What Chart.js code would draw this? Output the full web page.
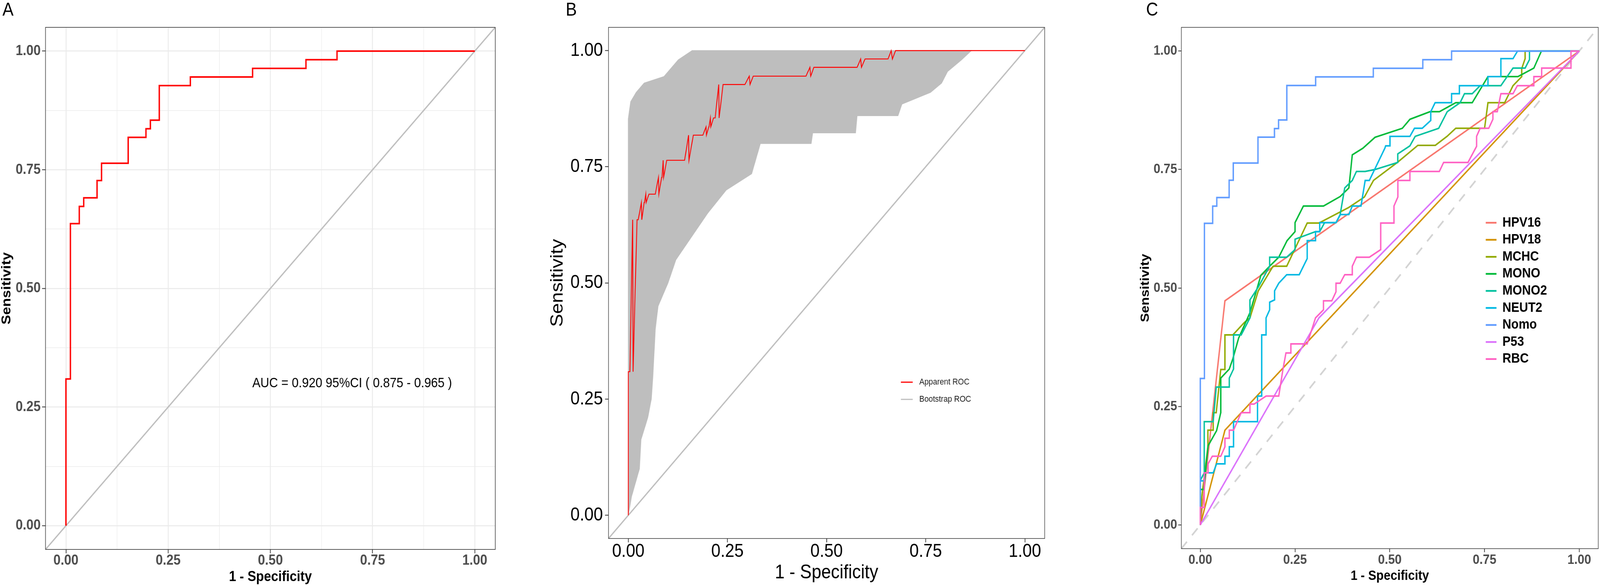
<!DOCTYPE html>
<html>
<head>
<meta charset="utf-8">
<script src="https://cdn.jsdelivr.net/npm/chart.js@4.4.1/dist/chart.umd.min.js"></script>
<style>
  html, body { margin: 0; padding: 0; background: #fff; overflow: hidden; }
  #stage { position: relative; width: 4607px; height: 1497px; transform-origin: 0 0;
           font-family: "Liberation Sans", Arial, Helvetica, sans-serif; }
  canvas { position: absolute; top: 0; }
  .tag { position: absolute; top: 0; font-size: 48px; line-height: 48px; color: #000; z-index: 2; }
</style>
</head>
<body>
<div id="stage">
<canvas id="rocA" width="1480" height="1497" style="left:0px;width:1480px;height:1497px"></canvas>
<canvas id="rocB" width="1530" height="1497" style="left:1500px;width:1530px;height:1497px"></canvas>
<canvas id="rocC" width="1507" height="1497" style="left:3100px;width:1507px;height:1497px"></canvas>
<div class="tag" style="left:7px">A</div>
<div class="tag" style="left:1629px">B</div>
<div class="tag" style="left:3300px">C</div>
</div>
<script>
const FONT = '"Liberation Sans", Arial, Helvetica, sans-serif';

const axisTicks = [0, 0.25, 0.5, 0.75, 1];
const minorTicks = [0.125, 0.375, 0.625, 0.875];
const aucText = 'AUC = 0.920 95%CI ( 0.875 - 0.965 )';

// [1 - specificity, sensitivity] at each corner of the curves
const nomo = [[0,0],[0,0.3091],[0.0109,0.3091],[0.0109,0.6364],[0.0326,0.6364],[0.0326,0.6727],
  [0.0435,0.6727],[0.0435,0.6909],[0.0761,0.6909],[0.0761,0.7273],[0.0870,0.7273],[0.0870,0.7636],
  [0.1522,0.7636],[0.1522,0.8182],[0.1957,0.8182],[0.1957,0.8364],[0.2065,0.8364],[0.2065,0.8545],
  [0.2283,0.8545],[0.2283,0.9273],[0.3043,0.9273],[0.3043,0.9455],[0.4565,0.9455],[0.4565,0.9636],
  [0.5870,0.9636],[0.5870,0.9818],[0.6630,0.9818],[0.6630,1],[1,1]];

const apparentB = [[0,0],[0,0.309],[0.004,0.309],[0.011,0.636],[0.012,0.309],[0.022,0.636],
  [0.025,0.636],[0.033,0.673],[0.034,0.636],[0.040,0.673],[0.041,0.673],[0.044,0.691],[0.045,0.673],
  [0.052,0.691],[0.068,0.691],[0.076,0.727],[0.077,0.691],[0.084,0.727],[0.085,0.727],[0.088,0.764],
  [0.089,0.727],[0.097,0.764],[0.142,0.764],[0.152,0.818],[0.153,0.764],[0.164,0.818],[0.188,0.818],
  [0.196,0.836],[0.197,0.818],[0.203,0.836],[0.2035,0.836],[0.207,0.855],[0.208,0.836],[0.215,0.855],
  [0.219,0.855],[0.228,0.927],[0.229,0.855],[0.239,0.927],[0.294,0.927],[0.305,0.945],[0.307,0.927],
  [0.315,0.945],[0.448,0.945],[0.458,0.964],[0.460,0.945],[0.468,0.964],[0.577,0.964],[0.586,0.982],
  [0.588,0.964],[0.597,0.982],[0.655,0.982],[0.663,1],[0.666,0.982],[0.674,1],[1,1]];

// outline of the bootstrap curves: upper edge, then lower edge back to the origin
const bootUpper = [[0,0],[0,0.853],[0.006,0.89],[0.02,0.91],[0.04,0.93],[0.09,0.944],[0.126,0.98],
  [0.161,1],[0.865,1]];
const bootLower = [[0.865,1],[0.84,0.98],[0.805,0.955],[0.79,0.93],[0.762,0.91],[0.69,0.885],
  [0.68,0.86],[0.577,0.86],[0.573,0.823],[0.465,0.823],[0.461,0.80],[0.333,0.80],[0.311,0.735],
  [0.247,0.70],[0.2,0.65],[0.16,0.60],[0.12,0.55],[0.1,0.5],[0.075,0.45],[0.068,0.4],[0.062,0.3],
  [0.058,0.25],[0.049,0.21],[0.032,0.163],[0.028,0.1],[0.008,0.04],[0,0]];

const diagonal = [[-0.05,-0.05],[1.05,1.05]];

const hpv16 = [[0,0],[0.065,0.473],[1,1]];
const hpv18 = [[0,0],[0.065,0.2],[1,1]];
const mchc = [[0,0],[0.004,0.06],[0.02,0.165],[0.02,0.2],[0.034,0.2],[0.034,0.237],[0.042,0.237],
  [0.054,0.328],[0.065,0.328],[0.065,0.401],[0.086,0.401],[0.116,0.427],[0.131,0.437],[0.153,0.494],
  [0.192,0.546],[0.228,0.546],[0.282,0.637],[0.313,0.637],[0.392,0.67],[0.433,0.692],[0.457,0.727],
  [0.52,0.765],[0.574,0.801],[0.62,0.801],[0.651,0.82],[0.674,0.837],[0.75,0.837],[0.759,0.891],
  [0.803,0.891],[0.825,0.927],[0.848,0.946],[0.848,0.963],[0.857,0.984],[0.857,1],[1,1]];
const mono = [[0,0],[0,0.075],[0.009,0.075],[0.0205,0.167],[0.043,0.199],[0.054,0.237],[0.054,0.31],
  [0.0765,0.329],[0.086,0.351],[0.101,0.394],[0.131,0.448],[0.16,0.527],[0.183,0.546],[0.207,0.565],
  [0.229,0.6],[0.25,0.619],[0.25,0.638],[0.272,0.673],[0.325,0.673],[0.369,0.693],[0.392,0.711],
  [0.401,0.781],[0.429,0.795],[0.461,0.818],[0.533,0.837],[0.553,0.856],[0.606,0.872],[0.631,0.872],
  [0.674,0.891],[0.7175,0.891],[0.759,0.946],[0.838,0.946],[0.88,0.964],[0.9,1],[1,1]];
const mono2 = [[0,0],[0,0.094],[0.0104,0.11],[0.0104,0.218],[0.034,0.218],[0.042,0.291],[0.0765,0.291],
  [0.0765,0.31],[0.0877,0.329],[0.0877,0.401],[0.108,0.401],[0.131,0.437],[0.131,0.475],[0.153,0.502],
  [0.183,0.546],[0.183,0.565],[0.228,0.565],[0.25,0.581],[0.25,0.603],[0.304,0.619],[0.315,0.619],
  [0.328,0.638],[0.358,0.638],[0.369,0.655],[0.381,0.711],[0.401,0.727],[0.412,0.746],[0.435,0.746],
  [0.461,0.75],[0.521,0.765],[0.521,0.783],[0.553,0.8],[0.567,0.82],[0.629,0.837],[0.6515,0.872],
  [0.6855,0.891],[0.697,0.91],[0.7175,0.91],[0.7383,0.927],[0.793,0.927],[0.825,0.964],[0.857,0.964],
  [0.8685,0.982],[0.8685,1],[1,1]];
const neut2 = [[0,0],[0,0.093],[0.011,0.093],[0.011,0.11],[0.034,0.11],[0.043,0.129],[0.065,0.129],
  [0.065,0.145],[0.0765,0.145],[0.0765,0.165],[0.0877,0.165],[0.0877,0.218],[0.151,0.218],[0.151,0.272],
  [0.162,0.272],[0.162,0.401],[0.1735,0.401],[0.1735,0.437],[0.183,0.454],[0.183,0.47],[0.196,0.475],
  [0.196,0.494],[0.207,0.51],[0.228,0.528],[0.261,0.528],[0.282,0.562],[0.282,0.6],[0.304,0.6],
  [0.304,0.619],[0.315,0.619],[0.315,0.638],[0.358,0.638],[0.37,0.655],[0.392,0.655],[0.401,0.673],
  [0.424,0.673],[0.435,0.727],[0.446,0.727],[0.487,0.795],[0.489,0.8],[0.5005,0.8],[0.5005,0.82],
  [0.553,0.82],[0.565,0.837],[0.5855,0.837],[0.608,0.8535],[0.608,0.872],[0.6195,0.891],[0.663,0.891],
  [0.663,0.91],[0.6836,0.91],[0.6836,0.927],[0.759,0.927],[0.759,0.946],[0.793,0.946],[0.793,0.984],
  [0.825,0.984],[0.837,1],[1,1]];
const p53 = [[0,0],[0.313,0.437],[1,1]];
const rbc = [[0,0],[0,0.037],[0.0104,0.037],[0.0104,0.11],[0.0205,0.11],[0.0205,0.129],[0.0317,0.145],
  [0.054,0.145],[0.065,0.165],[0.065,0.183],[0.0765,0.183],[0.0765,0.2],[0.0877,0.2],[0.108,0.237],
  [0.131,0.237],[0.131,0.255],[0.142,0.255],[0.1735,0.272],[0.207,0.272],[0.218,0.328],[0.226,0.363],
  [0.239,0.363],[0.239,0.382],[0.282,0.382],[0.304,0.437],[0.325,0.454],[0.325,0.473],[0.347,0.473],
  [0.358,0.492],[0.358,0.51],[0.369,0.51],[0.381,0.528],[0.401,0.528],[0.401,0.546],[0.412,0.565],
  [0.446,0.565],[0.476,0.581],[0.476,0.637],[0.511,0.637],[0.511,0.673],[0.5213,0.692],[0.5213,0.727],
  [0.553,0.727],[0.553,0.746],[0.6307,0.746],[0.642,0.765],[0.7063,0.765],[0.729,0.799],[0.729,0.82],
  [0.7383,0.837],[0.761,0.837],[0.772,0.856],[0.772,0.872],[0.7836,0.872],[0.793,0.91],[0.825,0.91],
  [0.8365,0.927],[0.88,0.927],[0.88,0.946],[0.9006,0.946],[0.9006,0.964],[0.978,0.964],[0.978,1],[1,1]];

const cNames = ['HPV16', 'HPV18', 'MCHC', 'MONO', 'MONO2', 'NEUT2', 'Nomo', 'P53', 'RBC'];
const cCurves = [hpv16, hpv18, mchc, mono, mono2, neut2, nomo, p53, rbc];
const cColors = ['#F8766D', '#D39200', '#93AA00', '#00BA38', '#00C19F', '#00B9E3', '#619CFF', '#DB72FB', '#FF61C3'];

// fit the 4607x1497 figure into whatever viewport we actually got
(function fitStage() {
  const sx = window.innerWidth / 4607, sy = window.innerHeight / 1497;
  if (Math.abs(sx - 1) > 0.001 || Math.abs(sy - 1) > 0.001) {
    document.getElementById('stage').style.transform = 'scale(' + sx + ',' + sy + ')';
  }
})();

const pts = a => a.map(([x, y]) => ({x, y}));
const isMajor = v => Math.abs(v * 4 - Math.round(v * 4)) < 1e-6;

function line(label, data, color, width, order, extra) {
  return Object.assign({label, data: pts(data), borderColor: color, backgroundColor: color,
    borderWidth: width, showLine: true, pointRadius: 0, pointHoverRadius: 0, fill: false,
    tension: 0, order}, extra || {});
}

function scaleOpt(horizontal, o) {
  return {
    type: 'linear', position: horizontal ? 'bottom' : 'left',
    min: -0.05, max: 1.05,
    afterBuildTicks: s => {
      s.ticks = axisTicks.concat(o.minor ? minorTicks : []).sort((a, b) => a - b).map(v => ({value: v}));
    },
    afterFit: s => { if (horizontal) s.height = o.size; else s.width = o.size; },
    border: {display: false},
    grid: {
      drawOnChartArea: !!o.grid, color: '#EBEBEB',
      lineWidth: c => (c.tick && isMajor(c.tick.value) ? 2.7 : 1.4),
      drawTicks: true, tickLength: o.tickLen, tickWidth: 2,
      tickColor: c => (c.tick && isMajor(c.tick.value) ? '#333333' : 'rgba(0,0,0,0)')
    },
    ticks: {
      autoSkip: false, maxRotation: 0, minRotation: 0, padding: o.pad, color: o.tickColor,
      font: {family: FONT, size: o.tickSize, weight: o.weight, lineHeight: 1},
      callback: v => (isMajor(v) ? v.toFixed(2) : '')
    },
    title: {
      display: true, text: o.title, color: '#000',
      font: {family: FONT, size: o.titleSize, weight: o.weight, lineHeight: 1},
      padding: horizontal ? {top: 0, bottom: o.titlePad} : {top: o.titlePad, bottom: 0}
    }
  };
}

function frame(color, width) {
  return {
    id: 'frame',
    afterDatasetsDraw(chart) {
      const {ctx, chartArea: a} = chart;
      ctx.save();
      ctx.strokeStyle = color;
      ctx.lineWidth = width;
      ctx.strokeRect(a.left, a.top, a.right - a.left, a.bottom - a.top);
      ctx.restore();
    }
  };
}

function keyLegend(o) {
  return {
    id: 'keyLegend',
    afterDraw(chart) {
      const ctx = chart.ctx;
      const items = chart.data.datasets.filter(d => d.label);
      ctx.save();
      ctx.font = o.font;
      ctx.textAlign = 'left';
      ctx.textBaseline = 'middle';
      items.forEach((d, i) => {
        const y = o.y + i * o.gap;
        ctx.strokeStyle = d.borderColor;
        ctx.lineWidth = o.keyWidth;
        ctx.beginPath();
        ctx.moveTo(o.x, y);
        ctx.lineTo(o.x + o.keyLen, y);
        ctx.stroke();
        ctx.fillStyle = o.color;
        ctx.fillText(d.label, o.textX, y);
      });
      ctx.restore();
    }
  };
}

const aucLabel = {
  id: 'auc',
  afterDatasetsDraw(chart) {
    const {ctx, scales: {x, y}} = chart;
    ctx.save();
    ctx.font = '35px ' + FONT;
    ctx.fillStyle = '#000';
    ctx.textAlign = 'center';
    ctx.textBaseline = 'middle';
    ctx.fillText(aucText, x.getPixelForValue(0.70), y.getPixelForValue(0.30));
    ctx.restore();
  }
};

function roc(id, cfg) {
  return new Chart(document.getElementById(id), {
    type: 'scatter',
    data: {datasets: cfg.datasets},
    options: {
      responsive: false, devicePixelRatio: 1, animation: false, events: [],
      layout: {padding: cfg.pad},
      plugins: {legend: {display: false}, tooltip: {enabled: false}},
      scales: {x: scaleOpt(true, cfg.x), y: scaleOpt(false, cfg.y)}
    },
    plugins: [frame(cfg.frameColor, cfg.frameWidth)].concat(cfg.extra || [])
  });
}

// A
roc('rocA', {
  pad: {left: 0, top: 70, right: 54, bottom: 0},
  frameColor: '#333333', frameWidth: 1.6,
  datasets: [
    line('', nomo, '#FF0000', 4, 1),
    line('', diagonal, '#BEBEBE', 3.6, 2)
  ],
  x: {size: 91, tickLen: 10, pad: 0, tickColor: '#4D4D4D', tickSize: 37, weight: 'bold',
      title: '1 - Specificity', titleSize: 37, titlePad: 1.5, grid: true, minor: true},
  y: {size: 131, tickLen: 10, pad: 4, tickColor: '#4D4D4D', tickSize: 37, weight: 'bold',
      title: 'Sensitivity', titleSize: 37, titlePad: 1.5, grid: true, minor: true},
  extra: [aucLabel]
});

// B
roc('rocB', {
  pad: {left: 0, top: 70, right: 22, bottom: 0},
  frameColor: '#333333', frameWidth: 1.5,
  datasets: [
    line('Apparent ROC', apparentB, '#FF0000', 2.4, 1),
    line('Bootstrap ROC', bootUpper.concat(bootLower), '#BEBEBE', 2, 3, {fill: 'shape'}),
    line('', diagonal, '#BEBEBE', 3.6, 4)
  ],
  x: {size: 119, tickLen: 10, pad: 0, tickColor: '#000', tickSize: 48, weight: 'normal',
      title: '1 - Specificity', titleSize: 50, titlePad: 6, grid: false},
  y: {size: 252, tickLen: 10, pad: 6, tickColor: '#000', tickSize: 48, weight: 'normal',
      title: 'Sensitivity', titleSize: 50, titlePad: 81, grid: false},
  extra: [keyLegend({x: 1094, keyLen: 34, keyWidth: 3, textX: 1147, y: 978, gap: 44,
                     font: '22px ' + FONT, color: '#1A1A1A'})]
});

// C
const cSets = cNames.map((n, i) => line(n, cCurves[i], cColors[i], 4, cNames.length - i));
cSets.push(line('', diagonal, '#D3D3D3', 4.5, 99, {borderDash: [24, 22]}));
roc('rocC', {
  pad: {left: 0, top: 70, right: 5, bottom: 0},
  frameColor: '#333333', frameWidth: 1.5,
  datasets: cSets,
  x: {size: 93, tickLen: 9, pad: 3, tickColor: '#4D4D4D', tickSize: 35, weight: 'bold',
      title: '1 - Specificity', titleSize: 35, titlePad: 5.5, grid: false},
  y: {size: 301.5, tickLen: 9, pad: 3, tickColor: '#4D4D4D', tickSize: 35, weight: 'bold',
      title: 'Sensitivity', titleSize: 35, titlePad: 180.5, grid: false},
  extra: [keyLegend({x: 1178, keyLen: 31, keyWidth: 4.5, textX: 1226, y: 570, gap: 43.6,
                     font: 'bold 35px ' + FONT, color: '#000'})]
});
</script>
</body>
</html>
